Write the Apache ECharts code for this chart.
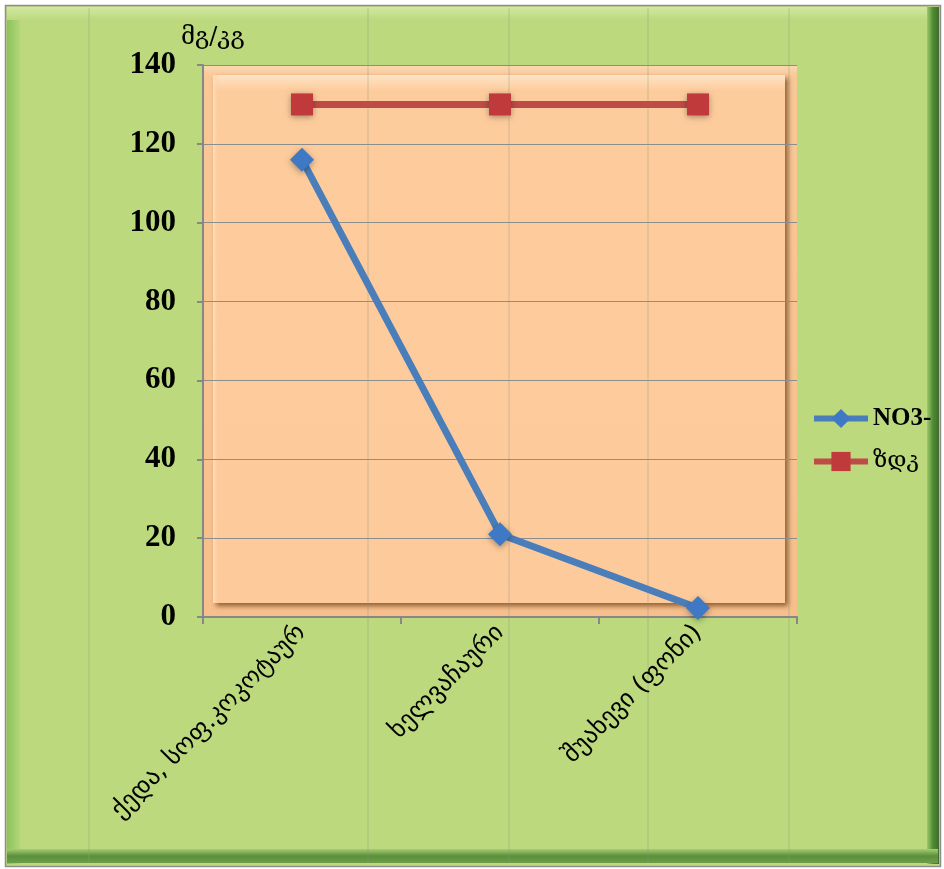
<!DOCTYPE html>
<html>
<head>
<meta charset="utf-8">
<script src="https://cdn.jsdelivr.net/npm/echarts@6/dist/echarts.min.js"></script>
<style>
html,body{margin:0;padding:0;background:#ffffff;}
#c{width:944px;height:869px;}
</style>
</head>
<body>
<div id="c"></div>
<script>
const categories = ['ქედა, სოფ.კოკოტაურ', 'ხელვაჩაური', 'შუახევი (ფონი)'];
const no3Values = [116, 21, 2.3];
const zdkValues = [130, 130, 130];
const seriesNames = ['NO3-', 'ზდკ'];
const yTicks = { min: 0, max: 140, interval: 20 };
const yAxisTitle = 'მგ/კგ';

const chart = echarts.init(document.getElementById('c'), null, { renderer: 'canvas' });

const G = { l: 203, t: 65, r: 797, b: 617 };
const Z = -20;
function line(x1, y1, x2, y2, stroke, w, z) {
  return { type: 'line', shape: { x1, y1, x2, y2 }, style: { stroke, lineWidth: w }, z: z, silent: true };
}

const graphics = [
  { type: 'rect', shape: { x: 5.5, y: 5.5, width: 935, height: 861 }, style: { fill: '#bcd97d', stroke: '#8e8e8e', lineWidth: 1.5 }, z: Z - 5, silent: true },
  { type: 'rect', shape: { x: 7, y: 7, width: 13, height: 857 }, style: { fill: new echarts.graphic.LinearGradient(0, 0, 1, 0, [{ offset: 0, color: '#8cc25a' }, { offset: 1, color: '#b3d67a' }]) }, z: Z - 4, silent: true },
  { type: 'rect', shape: { x: 7, y: 7, width: 931, height: 13 }, style: { fill: new echarts.graphic.LinearGradient(0, 0, 0, 1, [{ offset: 0, color: '#d3e7a2' }, { offset: 1, color: '#bcd97d' }]) }, z: Z - 3, silent: true },
  { type: 'rect', shape: { x: 927, y: 7, width: 12, height: 857 }, style: { fill: new echarts.graphic.LinearGradient(0, 0, 1, 0, [{ offset: 0, color: '#9fca6a' }, { offset: 0.5, color: '#4f8a33' }, { offset: 1, color: '#3f6f2a' }]) }, z: Z - 3, silent: true },
  { type: 'rect', shape: { x: 7, y: 849, width: 931, height: 14 }, style: { fill: new echarts.graphic.LinearGradient(0, 0, 0, 1, [{ offset: 0, color: '#a5cd72' }, { offset: 0.5, color: '#5b8f3c' }, { offset: 1, color: '#6d9d48' }]) }, z: Z - 2, silent: true },
  line(89, 8, 89, 862, 'rgba(140,160,120,0.45)', 1, Z - 1),
  line(368, 8, 368, 862, 'rgba(140,150,120,0.4)', 1, Z + 8),
  line(509, 8, 509, 862, 'rgba(140,150,120,0.4)', 1, Z + 8),
  line(648, 8, 648, 862, 'rgba(140,150,120,0.4)', 1, Z + 8),
  line(789, 8, 789, 862, 'rgba(140,150,120,0.4)', 1, Z + 8),
  { type: 'rect', shape: { x: G.l, y: G.t, width: G.r - G.l, height: G.b - G.t }, style: { fill: new echarts.graphic.LinearGradient(0, 0, 0, 1, [{ offset: 0, color: '#fbd9b4' }, { offset: 0.02, color: '#f9c896' }, { offset: 1, color: '#f6bf8c' }]) }, z: Z, silent: true },
  { type: 'rect', shape: { x: G.l + 10, y: G.t + 10, width: G.r - G.l - 22, height: G.b - G.t - 24 },
    style: { fill: new echarts.graphic.LinearGradient(0, 0, 0, 1, [{ offset: 0, color: '#fde3c6' }, { offset: 0.03, color: '#fdcc9c' }, { offset: 1, color: '#fdcb9b' }]),
      shadowBlur: 5, shadowColor: 'rgba(110,60,20,0.75)', shadowOffsetX: 3, shadowOffsetY: 3 }, z: Z + 4, silent: true },
  { type: 'rect', shape: { x: G.l + 10, y: G.t + 10, width: 6, height: G.b - G.t - 24 }, style: { fill: new echarts.graphic.LinearGradient(0, 0, 1, 0, [{ offset: 0, color: '#fee0c0' }, { offset: 1, color: 'rgba(253,203,155,0)' }]) }, z: Z + 5, silent: true }
];

const option = {
  backgroundColor: 'transparent',
  animation: false,
  graphic: graphics,
  grid: { left: G.l, top: G.t, width: G.r - G.l, height: G.b - G.t, containLabel: false },
  legend: {
    orient: 'vertical',
    left: 806,
    top: 401,
    itemWidth: 54,
    itemHeight: 24,
    itemGap: 19,
    data: seriesNames,
    lineStyle: { width: 6 },
    formatter: function (name) { return name === 'NO3-' ? '{a|' + name + '}' : '{b|' + name + '}'; },
    textStyle: {
      color: '#000',
      rich: {
        a: { fontFamily: "'Liberation Serif', serif", fontWeight: 'bold', fontSize: 25, color: '#000' },
        b: { fontFamily: "'DejaVu Serif', 'DejaVu Sans', serif", fontWeight: 'normal', fontSize: 23, color: '#000' }
      }
    }
  },
  xAxis: {
    type: 'category',
    data: categories,
    boundaryGap: true,
    axisLine: { lineStyle: { color: '#878787', width: 2 } },
    axisTick: { show: true, length: 7, lineStyle: { color: '#878787', width: 2 } },
    splitLine: { show: false },
    axisLabel: {
      rotate: 45,
      interval: 0,
      margin: 12,
      fontFamily: "'DejaVu Sans', sans-serif",
      fontSize: 25,
      color: '#000'
    }
  },
  yAxis: {
    type: 'value',
    min: yTicks.min,
    max: yTicks.max,
    interval: yTicks.interval,
    name: yAxisTitle,
    nameLocation: 'end',
    nameGap: 14,
    nameTextStyle: { fontFamily: "'DejaVu Serif', serif", fontSize: 24, color: '#000', align: 'left', padding: [0, 0, 0, -22] },
    axisLine: { show: true, lineStyle: { color: '#878787', width: 2 } },
    axisTick: { show: true, length: 6, lineStyle: { color: '#878787', width: 2 } },
    splitLine: { show: true, lineStyle: { color: '#8d8d8d', width: 1.2 } },
    axisLabel: {
      margin: 27,
      fontFamily: "'Liberation Serif', serif",
      fontWeight: 'bold',
      fontSize: 31,
      color: '#000'
    }
  },
  series: [
    {
      name: seriesNames[0],
      type: 'line',
      data: no3Values,
      symbol: 'diamond',
      symbolSize: 24,
      z: 3,
      lineStyle: { color: '#4a7ebb', width: 7 },
      itemStyle: { color: '#3f78c4', shadowColor: 'rgba(0,0,0,0.35)', shadowBlur: 6, shadowOffsetY: 2 }
    },
    {
      name: seriesNames[1],
      type: 'line',
      data: zdkValues,
      symbol: 'rect',
      symbolSize: 22,
      z: 3,
      lineStyle: { color: '#be4b48', width: 7 },
      itemStyle: { color: '#c0393b', shadowColor: 'rgba(0,0,0,0.35)', shadowBlur: 6, shadowOffsetY: 2 }
    }
  ]
};
chart.setOption(option);
</script>
</body>
</html>
